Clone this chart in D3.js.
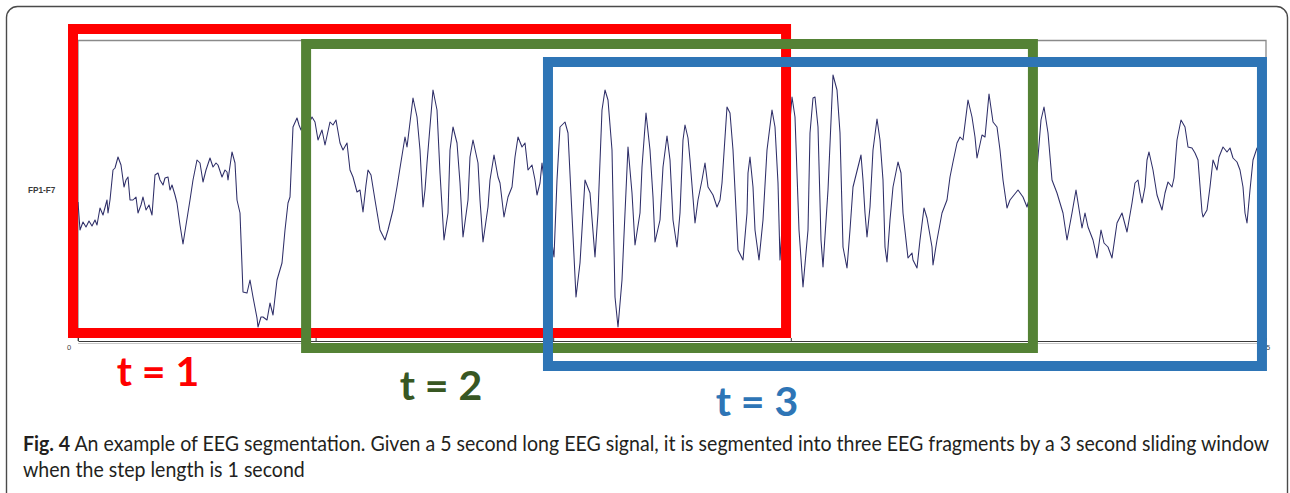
<!DOCTYPE html>
<html>
<head>
<meta charset="utf-8">
<script src="https://cdn.jsdelivr.net/npm/d3@7"></script>
<style>
  html, body { margin: 0; padding: 0; background: #ffffff; }
  svg { display: block; }
</style>
</head>
<body>
<svg id="fig" width="1290" height="493"></svg>
<script>
// ---- data -------------------------------------------------------------
// FP1-F7 channel, 5 s record. Each pair: [sample index, amplitude in µV]
const sampleRate = 237.6; // Hz
const channelName = "FP1-F7";
const eegTrace = [
  [0,-11],[2,-39],[5,-31],[8,-36],[11,-30],[14,-35],[17,-29],[19,-34],[22,-17],[25,-24],
  [29,-9],[30,-22],[32,-9],[35,21],[37,23],[40,34],[43,26],[46,4],[48,11],[50,14],
  [52,-9],[55,-9],[58,-6],[60,-22],[63,-14],[65,-6],[68,-19],[71,-14],[74,-24],[77,16],
  [80,18],[82,11],[85,6],[87,13],[90,14],[92,1],[94,6],[97,-4],[99,-12],[102,-34],
  [105,-53],[108,-34],[112,-9],[115,11],[119,31],[122,28],[125,9],[128,21],[132,33],[135,24],
  [138,28],[140,26],[144,14],[147,21],[149,19],[150,11],[154,39],[157,28],[159,-9],[162,-22],
  [165,-101],[169,-102],[172,-89],[175,-106],[179,-127],[180,-136],[183,-126],[185,-126],[189,-129],[192,-112],
  [195,-124],[199,-89],[204,-72],[207,-39],[210,-12],[212,-6],[215,64],[219,73],[221,66],[223,61],
  [226,71],[230,66],[234,74],[237,69],[240,51],[244,61],[247,46],[252,69],[255,66],[258,71],
  [262,48],[265,41],[269,48],[272,21],[275,14],[279,-1],[282,1],[285,-21],[288,6],[290,21],
  [293,16],[297,-9],[302,-39],[307,-49],[310,-39],[315,-19],[319,4],[322,23],[327,54],[329,44],
  [335,93],[339,74],[342,41],[345,-16],[347,1],[349,28],[355,101],[359,81],[362,18],[366,-49],
  [370,-22],[372,41],[375,64],[379,48],[382,8],[385,-46],[390,-9],[392,34],[395,51],[400,28],
  [402,-9],[405,-51],[410,-16],[412,11],[416,36],[420,14],[422,8],[426,-26],[430,-6],[434,4],
  [437,34],[440,54],[444,44],[447,48],[450,21],[454,26],[457,11],[459,-4],[462,8],[464,28],
  [470,-24],[476,-66],[479,11],[482,64],[487,69],[490,58],[494,-24],[498,-106],[502,-72],[507,11],
  [512,-2],[517,-66],[520,-22],[524,81],[527,101],[530,91],[534,41],[537,-106],[540,-136],[544,-89],
  [547,-22],[550,44],[554,-2],[557,-54],[562,-22],[564,24],[568,78],[572,41],[575,-6],[577,-51],
  [582,-29],[585,24],[589,55],[592,31],[595,-29],[599,-56],[602,-22],[605,51],[607,66],[610,53],
  [612,31],[617,-32],[620,-9],[624,11],[627,28],[630,4],[635,-4],[639,-16],[642,-9],[644,8],
  [649,84],[652,78],[655,41],[660,-59],[665,-69],[669,-22],[670,18],[672,34],[675,4],[677,-39],
  [681,-69],[685,-29],[689,41],[694,81],[697,64],[700,8],[702,-69],[707,11],[714,94],[717,74],
  [721,-39],[725,-96],[730,-39],[732,58],[735,93],[737,94],[740,64],[743,-49],[745,-76],[750,1],
  [755,116],[759,101],[762,58],[765,-56],[769,-77],[772,-39],[775,4],[783,36],[785,11],[787,-22],
  [789,-46],[792,-16],[795,41],[799,72],[802,51],[805,11],[807,-56],[809,-71],[812,-29],[815,4],
  [820,29],[823,18],[825,-22],[830,-67],[834,-62],[835,-69],[839,-77],[842,-49],[846,-17],[849,-27],
  [854,-56],[855,-74],[859,-49],[864,-22],[869,-9],[872,14],[875,29],[879,48],[882,54],[885,51],
  [890,91],[894,74],[897,54],[899,33],[904,56],[907,54],[911,97],[915,69],[919,64],[922,41],
  [925,11],[929,-17],[932,-9],[936,-4],[940,1],[945,-6],[949,-16],[950,-12],[955,1],[958,11],
  [960,34],[963,71],[966,84],[970,58],[974,11],[979,-2],[982,-12],[985,-22],[989,-49],[994,-22],
  [998,1],[1004,-37],[1007,-22],[1010,-36],[1015,-49],[1019,-67],[1023,-39],[1026,-52],[1030,-56],[1034,-67],
  [1039,-32],[1044,-22],[1049,-41],[1054,-12],[1057,8],[1060,11],[1062,-2],[1064,-12],[1067,4],[1069,31],
  [1071,39],[1075,21],[1079,-4],[1084,-19],[1087,-2],[1090,9],[1094,4],[1096,13],[1099,51],[1103,71],
  [1107,64],[1110,44],[1114,43],[1117,38],[1120,31],[1124,-21],[1125,-26],[1129,-19],[1132,4],[1135,31],
  [1139,21],[1141,34],[1145,44],[1149,39],[1152,43],[1155,33],[1159,29],[1162,21],[1165,4],[1167,-22],
  [1169,-32],[1172,1],[1175,31],[1179,43],[1183,41]
];

// time axis (seconds)
const axisTickSeconds = [0, 1, 2, 3, 4, 5];
const axisTickLabels  = ["0", "", "", "", "", "5"];

// sliding windows: 3 s long, 1 s step (bounds in seconds as drawn)
const windowNames  = ["t = 1", "t = 2", "t = 3"];
const windowStart  = [-0.021, 0.960, 1.978];
const windowEnd    = [2.980, 4.019, 4.983];
const windowColors = ["#ff0000", "#548235", "#2e75b6"];
const labelColors  = ["#ff0000", "#385723", "#2e75b6"];

// caption
const captionBold = "Fig. 4";
const captionText = [
  " An example of EEG segmentation. Given a 5 second long EEG signal, it is segmented into three EEG fragments by a 3 second sliding window",
  "when the step length is 1 second"
];

// ---- layout -----------------------------------------------------------
const W = 1290, H = 493;
const plot = { left: 78, right: 1266, top: 41, bottom: 341 };
const boxTops = [29, 44, 62];      // staggered window frames
const boxHeight = 304;
const boxStroke = 10;
const labelAnchors = [[158, 386], [441, 400], [757, 416]];

const svg = d3.select("#fig");

// outer rounded panel
svg.append("rect")
  .attr("x", 6.5).attr("y", 6.5)
  .attr("width", 1281).attr("height", 510)
  .attr("rx", 11).attr("ry", 11)
  .attr("fill", "#ffffff")
  .attr("stroke", "#4a4a4a")
  .attr("stroke-width", 1.4);

// scales
const x = d3.scaleLinear().domain([0, 5]).range([plot.left, plot.right]);
const y = d3.scaleLinear().domain([-150, 150]).range([plot.bottom, plot.top]);

// plot frame (top / right / left)
svg.append("path")
  .attr("d", `M${plot.left},${plot.bottom} V${plot.top - 0.5} H${plot.right} V${plot.bottom}`)
  .attr("fill", "none")
  .attr("stroke", "#8a8a8a")
  .attr("stroke-width", 1.3);

// channel label
svg.append("text")
  .attr("x", 28).attr("y", 193)
  .attr("font-family", "Liberation Sans, Arial, sans-serif")
  .attr("font-weight", "bold")
  .attr("font-size", 8.2)
  .attr("fill", "#3a3a3a")
  .text(channelName);

// time axis
const axis = d3.axisBottom(x)
  .tickValues(axisTickSeconds)
  .tickSizeInner(-3)
  .tickSizeOuter(0)
  .tickFormat("");
const axisG = svg.append("g")
  .attr("transform", `translate(0,${plot.bottom})`)
  .call(axis);
axisG.select(".domain").attr("stroke", "#3a3a3a").attr("stroke-width", 1.2);
axisG.selectAll(".tick line").attr("stroke", "#3a3a3a");
svg.append("line")
  .attr("x1", plot.left).attr("x2", plot.right)
  .attr("y1", plot.bottom + 2.5).attr("y2", plot.bottom + 2.5)
  .attr("stroke", "#c8c8c8").attr("stroke-width", 1);

svg.append("g").selectAll("text")
  .data(axisTickSeconds.filter((d, i) => axisTickLabels[i] !== ""))
  .join("text")
  .attr("x", d => x(d) + (d === 0 ? -9 : 2))
  .attr("y", plot.bottom + 9)
  .attr("text-anchor", "middle")
  .attr("font-family", "Liberation Sans, Arial, sans-serif")
  .attr("font-size", 7.5)
  .attr("fill", "#444")
  .text(d => axisTickLabels[axisTickSeconds.indexOf(d)]);

// EEG trace
const line = d3.line()
  .x(d => x(d[0] / sampleRate))
  .y(d => y(d[1]));
svg.append("path")
  .datum(eegTrace)
  .attr("d", line)
  .attr("fill", "none")
  .attr("stroke", "#2e2e68")
  .attr("stroke-width", 1.05)
  .attr("stroke-linejoin", "round");

// sliding-window frames
svg.append("g").selectAll("rect")
  .data(windowNames.map((n, i) => i))
  .join("rect")
  .attr("x", i => x(windowStart[i]))
  .attr("y", i => boxTops[i])
  .attr("width", i => x(windowEnd[i]) - x(windowStart[i]))
  .attr("height", boxHeight)
  .attr("fill", "none")
  .attr("stroke", i => windowColors[i])
  .attr("stroke-width", boxStroke);

// window labels
svg.append("g").selectAll("text")
  .data(windowNames.map((n, i) => i))
  .join("text")
  .attr("x", i => labelAnchors[i][0])
  .attr("y", i => labelAnchors[i][1])
  .attr("text-anchor", "middle")
  .attr("font-family", "Lato, 'Open Sans', sans-serif")
  .attr("font-weight", "bold")
  .attr("font-size", 41)
  .attr("fill", i => labelColors[i])
  .text(i => windowNames[i]);

// caption (two lines, condensed to the panel width)
const capFont = "Lato, 'Open Sans', sans-serif";
const capSize = 21;
const capLeft = 23, capRight = 1270;
const cap1 = svg.append("text")
  .attr("font-family", capFont).attr("font-size", capSize).attr("fill", "#231f20");
cap1.append("tspan").attr("font-weight", "bold").text(captionBold);
cap1.append("tspan").text(captionText[0]);
const cap2 = svg.append("text")
  .attr("font-family", capFont).attr("font-size", capSize).attr("fill", "#231f20")
  .text(captionText[1]);
const natural = cap1.node().getComputedTextLength();
const k = (capRight - capLeft) / natural;
cap1.attr("transform", `translate(${capLeft},451) scale(${k},1)`);
cap2.attr("transform", `translate(${capLeft},477) scale(${k},1)`);
</script>
</body>
</html>
